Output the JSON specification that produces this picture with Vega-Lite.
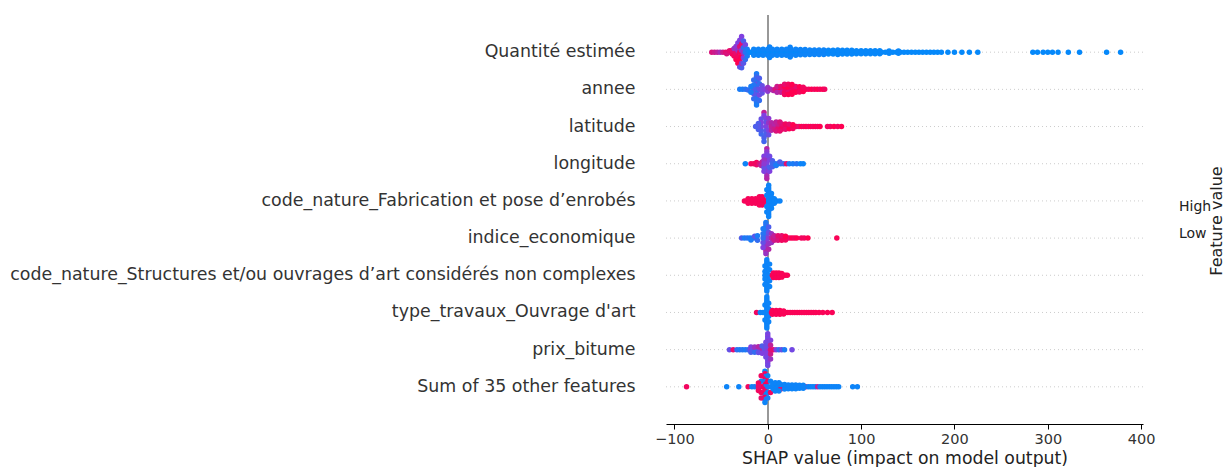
{
"$schema":"https://vega.github.io/schema/vega-lite/v6.json",
"width":477,"height":409,
"autosize":{"type":"none"},
"padding":{"left":666,"top":15,"right":82,"bottom":43},
"config":{"font":"DejaVu Sans","view":{"stroke":null}},
"datasets":{
"rows":[{"r":0},{"r":1},{"r":2},{"r":3},{"r":4},{"r":5},{"r":6},{"r":7},{"r":8},{"r":9}],
"pts":[
{"r":9,"x":-60,"v":0.85,"o":0},{"r":9,"x":-57,"v":0.8,"o":0},{"r":9,"x":-54,"v":0.75,"o":0},{"r":9,"x":-51,"v":0.65,"o":0},{"r":9,"x":-48,"v":0.8,"o":0},{"r":9,"x":-45,"v":0.9,"o":0},{"r":9,"x":-42,"v":0.95,"o":0},{"r":9,"x":-40,"v":0.6,"o":0},{"r":9,"x":-44,"v":0.85,"o":0.04},{"r":9,"x":-41,"v":0.9,"o":-0.04},
{"r":9,"x":-38,"v":0.95,"o":0.05},{"r":9,"x":-38,"v":0.9,"o":-0.05},{"r":9,"x":-36,"v":0.95,"o":0.1},{"r":9,"x":-36,"v":0.6,"o":-0.1},
{"r":9,"x":-34,"v":1,"o":0.2},{"r":9,"x":-34,"v":0.55,"o":-0.15},{"r":9,"x":-34,"v":0.9,"o":0.03},
{"r":9,"x":-32,"v":1,"o":0.3},{"r":9,"x":-32,"v":0.5,"o":-0.25},{"r":9,"x":-32,"v":0.95,"o":0.12},{"r":9,"x":-32,"v":0.6,"o":-0.05},
{"r":9,"x":-30,"v":0.4,"o":0.4},{"r":9,"x":-30,"v":0.5,"o":-0.32},{"r":9,"x":-30,"v":1,"o":0.22},{"r":9,"x":-30,"v":0.85,"o":-0.15},{"r":9,"x":-30,"v":0.95,"o":0},
{"r":9,"x":-28,"v":0.5,"o":-0.42},{"r":9,"x":-28,"v":0.3,"o":0.42},{"r":9,"x":-28,"v":0.6,"o":0.3},{"r":9,"x":-28,"v":0.9,"o":-0.22},{"r":9,"x":-28,"v":1,"o":0.12},{"r":9,"x":-28,"v":0.55,"o":-0.05},
{"r":9,"x":-26,"v":0.3,"o":-0.3},{"r":9,"x":-26,"v":0.35,"o":0.3},{"r":9,"x":-26,"v":0.5,"o":0.15},{"r":9,"x":-26,"v":0.2,"o":-0.12},{"r":9,"x":-26,"v":0.6,"o":0.02},
{"r":9,"x":-24,"v":0.2,"o":0.2},{"r":9,"x":-24,"v":0.45,"o":-0.2},{"r":9,"x":-24,"v":0.15,"o":0},{"r":9,"x":-22,"v":0.1,"o":0.1},{"r":9,"x":-22,"v":0.1,"o":-0.08},{"r":9,"x":-20,"v":0.05,"o":0},
{"r":9,"x":-18,"v":0.02,"o":0},{"r":9,"x":-14,"v":0.02,"o":0},{"r":9,"x":-10,"v":0.02,"o":0},{"r":9,"x":-6,"v":0.02,"o":0},{"r":9,"x":-2,"v":0.02,"o":0},{"r":9,"x":2,"v":0.02,"o":0},{"r":9,"x":6,"v":0.02,"o":0},{"r":9,"x":10,"v":0.02,"o":0},{"r":9,"x":14,"v":0.02,"o":0},{"r":9,"x":18,"v":0.02,"o":0},{"r":9,"x":22,"v":0.02,"o":0},{"r":9,"x":26,"v":0.02,"o":0},{"r":9,"x":30,"v":0.02,"o":0},{"r":9,"x":34,"v":0.02,"o":0},{"r":9,"x":38,"v":0.02,"o":0},{"r":9,"x":42,"v":0.02,"o":0},{"r":9,"x":46,"v":0.02,"o":0},{"r":9,"x":50,"v":0.02,"o":0},{"r":9,"x":54,"v":0.02,"o":0},{"r":9,"x":58,"v":0.02,"o":0},{"r":9,"x":62,"v":0.02,"o":0},{"r":9,"x":66,"v":0.02,"o":0},{"r":9,"x":70,"v":0.02,"o":0},{"r":9,"x":74,"v":0.02,"o":0},{"r":9,"x":78,"v":0.02,"o":0},{"r":9,"x":82,"v":0.02,"o":0},{"r":9,"x":86,"v":0.02,"o":0},{"r":9,"x":90,"v":0.02,"o":0},{"r":9,"x":94,"v":0.02,"o":0},{"r":9,"x":98,"v":0.02,"o":0},{"r":9,"x":102,"v":0.02,"o":0},{"r":9,"x":106,"v":0.02,"o":0},{"r":9,"x":110,"v":0.02,"o":0},{"r":9,"x":114,"v":0.02,"o":0},{"r":9,"x":118,"v":0.02,"o":0},{"r":9,"x":122,"v":0.02,"o":0},{"r":9,"x":126,"v":0.02,"o":0},{"r":9,"x":130,"v":0.02,"o":0},{"r":9,"x":134,"v":0.02,"o":0},{"r":9,"x":138,"v":0.02,"o":0},{"r":9,"x":142,"v":0.02,"o":0},{"r":9,"x":146,"v":0.02,"o":0},{"r":9,"x":150,"v":0.02,"o":0},{"r":9,"x":154,"v":0.02,"o":0},{"r":9,"x":158,"v":0.02,"o":0},{"r":9,"x":162,"v":0.02,"o":0},{"r":9,"x":166,"v":0.02,"o":0},{"r":9,"x":170,"v":0.02,"o":0},{"r":9,"x":174,"v":0.02,"o":0},{"r":9,"x":178,"v":0.02,"o":0},{"r":9,"x":182,"v":0.02,"o":0},{"r":9,"x":186,"v":0.02,"o":0},
{"r":9,"x":-15,"v":0.05,"o":0.08},{"r":9,"x":-15,"v":0.05,"o":-0.08},{"r":9,"x":-10,"v":0.05,"o":0.08},{"r":9,"x":-10,"v":0.05,"o":-0.08},{"r":9,"x":-5,"v":0.05,"o":0.08},{"r":9,"x":-5,"v":0.05,"o":-0.08},{"r":9,"x":0,"v":0.05,"o":0.08},{"r":9,"x":0,"v":0.05,"o":-0.08},{"r":9,"x":5,"v":0.05,"o":0.08},{"r":9,"x":5,"v":0.05,"o":-0.08},{"r":9,"x":10,"v":0.05,"o":0.08},{"r":9,"x":10,"v":0.05,"o":-0.08},{"r":9,"x":15,"v":0.05,"o":0.08},{"r":9,"x":15,"v":0.05,"o":-0.08},{"r":9,"x":20,"v":0.05,"o":0.08},{"r":9,"x":20,"v":0.05,"o":-0.08},{"r":9,"x":25,"v":0.05,"o":0.08},{"r":9,"x":25,"v":0.05,"o":-0.08},{"r":9,"x":30,"v":0.05,"o":0.08},{"r":9,"x":30,"v":0.05,"o":-0.08},{"r":9,"x":35,"v":0.05,"o":0.07},{"r":9,"x":35,"v":0.05,"o":-0.07},{"r":9,"x":40,"v":0.05,"o":0.07},{"r":9,"x":40,"v":0.05,"o":-0.07},{"r":9,"x":45,"v":0.05,"o":0.06},{"r":9,"x":45,"v":0.05,"o":-0.06},{"r":9,"x":50,"v":0.05,"o":0.06},{"r":9,"x":50,"v":0.05,"o":-0.06},{"r":9,"x":55,"v":0.05,"o":0.06},{"r":9,"x":55,"v":0.05,"o":-0.06},{"r":9,"x":60,"v":0.05,"o":0.06},{"r":9,"x":60,"v":0.05,"o":-0.06},
{"r":9,"x":2,"v":0.05,"o":0.14},{"r":9,"x":2,"v":0.05,"o":-0.14},{"r":9,"x":24,"v":0.05,"o":0.13},{"r":9,"x":24,"v":0.05,"o":-0.13},
{"r":9,"x":65,"v":0.03,"o":0.05},{"r":9,"x":65,"v":0.03,"o":-0.05},{"r":9,"x":70,"v":0.03,"o":0.05},{"r":9,"x":70,"v":0.03,"o":-0.05},{"r":9,"x":75,"v":0.03,"o":0.06},{"r":9,"x":75,"v":0.03,"o":-0.06},{"r":9,"x":80,"v":0.03,"o":0.05},{"r":9,"x":80,"v":0.03,"o":-0.05},{"r":9,"x":85,"v":0.03,"o":0.05},{"r":9,"x":85,"v":0.03,"o":-0.05},{"r":9,"x":90,"v":0.03,"o":0.05},{"r":9,"x":90,"v":0.03,"o":-0.05},{"r":9,"x":95,"v":0.03,"o":0.04},{"r":9,"x":95,"v":0.03,"o":-0.04},{"r":9,"x":100,"v":0.03,"o":0.04},{"r":9,"x":100,"v":0.03,"o":-0.04},{"r":9,"x":105,"v":0.03,"o":0.04},{"r":9,"x":105,"v":0.03,"o":-0.04},{"r":9,"x":110,"v":0.03,"o":0.04},{"r":9,"x":110,"v":0.03,"o":-0.04},{"r":9,"x":115,"v":0.03,"o":0.04},{"r":9,"x":115,"v":0.03,"o":-0.04},{"r":9,"x":120,"v":0.03,"o":0.04},{"r":9,"x":120,"v":0.03,"o":-0.04},{"r":9,"x":130,"v":0.03,"o":0.03},{"r":9,"x":130,"v":0.03,"o":-0.03},{"r":9,"x":140,"v":0.03,"o":0.03},{"r":9,"x":140,"v":0.03,"o":-0.03},
{"r":9,"x":193,"v":0.02,"o":0},{"r":9,"x":200,"v":0.02,"o":0},{"r":9,"x":208,"v":0.02,"o":0},{"r":9,"x":216,"v":0.02,"o":0},{"r":9,"x":225,"v":0.02,"o":0},{"r":9,"x":284,"v":0.02,"o":0},{"r":9,"x":289,"v":0.02,"o":0},{"r":9,"x":295,"v":0.02,"o":0},{"r":9,"x":300,"v":0.02,"o":0},{"r":9,"x":305,"v":0.02,"o":0},{"r":9,"x":311,"v":0.02,"o":0},{"r":9,"x":322,"v":0.02,"o":0},{"r":9,"x":334,"v":0.02,"o":0},{"r":9,"x":363,"v":0.02,"o":0},{"r":9,"x":378,"v":0.02,"o":0},

{"r":8,"x":-30,"v":0.1,"o":0},{"r":8,"x":-27,"v":0.1,"o":0},{"r":8,"x":-24,"v":0.15,"o":0},{"r":8,"x":-21,"v":0.2,"o":0.02},
{"r":8,"x":-12,"v":0.1,"o":-0.42},{"r":8,"x":-12,"v":0.2,"o":-0.35},{"r":8,"x":-12,"v":0.3,"o":-0.28},{"r":8,"x":-12,"v":0.15,"o":-0.21},{"r":8,"x":-12,"v":0.4,"o":-0.14},{"r":8,"x":-12,"v":0.2,"o":-0.07},{"r":8,"x":-12,"v":0.35,"o":0},{"r":8,"x":-12,"v":0.15,"o":0.07},{"r":8,"x":-12,"v":0.3,"o":0.14},{"r":8,"x":-12,"v":0.2,"o":0.21},{"r":8,"x":-12,"v":0.1,"o":0.28},{"r":8,"x":-12,"v":0.15,"o":0.35},{"r":8,"x":-12,"v":0.1,"o":0.42},
{"r":8,"x":-15,"v":0.2,"o":0.25},{"r":8,"x":-15,"v":0.2,"o":-0.25},{"r":8,"x":-15,"v":0.35,"o":0.12},{"r":8,"x":-15,"v":0.15,"o":-0.12},{"r":8,"x":-15,"v":0.3,"o":0},
{"r":8,"x":-9,"v":0.2,"o":0.3},{"r":8,"x":-9,"v":0.3,"o":-0.3},{"r":8,"x":-9,"v":0.45,"o":0.15},{"r":8,"x":-9,"v":0.2,"o":-0.15},{"r":8,"x":-9,"v":0.4,"o":0},
{"r":8,"x":-6,"v":0.4,"o":0.1},{"r":8,"x":-6,"v":0.4,"o":-0.1},{"r":8,"x":-6,"v":0.45,"o":0},{"r":8,"x":-18,"v":0.1,"o":0.08},{"r":8,"x":-18,"v":0.1,"o":-0.08},
{"r":8,"x":-3,"v":0.5,"o":0},{"r":8,"x":0,"v":0.55,"o":0.05},{"r":8,"x":0,"v":0.6,"o":-0.05},{"r":8,"x":3,"v":0.65,"o":0},{"r":8,"x":6,"v":0.7,"o":0.03},
{"r":8,"x":8,"v":0.85,"o":0},{"r":8,"x":11,"v":0.95,"o":0},{"r":8,"x":14,"v":1,"o":0},{"r":8,"x":17,"v":0.9,"o":0},{"r":8,"x":20,"v":0.95,"o":0},{"r":8,"x":23,"v":1,"o":0},{"r":8,"x":26,"v":0.9,"o":0},{"r":8,"x":29,"v":0.95,"o":0},{"r":8,"x":32,"v":1,"o":0},{"r":8,"x":35,"v":0.9,"o":0},{"r":8,"x":38,"v":0.95,"o":0},{"r":8,"x":41,"v":1,"o":0},{"r":8,"x":44,"v":0.95,"o":0},{"r":8,"x":47,"v":1,"o":0},{"r":8,"x":50,"v":0.95,"o":0},{"r":8,"x":53,"v":1,"o":0},{"r":8,"x":56,"v":0.95,"o":0},{"r":8,"x":59,"v":1,"o":0},{"r":8,"x":61,"v":0.95,"o":0},
{"r":8,"x":10,"v":0.7,"o":0.08},{"r":8,"x":10,"v":0.8,"o":-0.08},{"r":8,"x":14,"v":0.75,"o":0.08},{"r":8,"x":14,"v":0.9,"o":-0.08},{"r":8,"x":18,"v":0.95,"o":0.08},{"r":8,"x":18,"v":1,"o":-0.08},{"r":8,"x":22,"v":0.9,"o":0.08},{"r":8,"x":22,"v":1,"o":-0.08},{"r":8,"x":26,"v":1,"o":0.08},{"r":8,"x":26,"v":0.95,"o":-0.08},{"r":8,"x":30,"v":1,"o":0.08},{"r":8,"x":30,"v":0.9,"o":-0.08},{"r":8,"x":34,"v":0.95,"o":0.07},{"r":8,"x":34,"v":1,"o":-0.07},{"r":8,"x":38,"v":1,"o":0.06},{"r":8,"x":38,"v":0.95,"o":-0.06},
{"r":8,"x":18,"v":0.95,"o":0.14},{"r":8,"x":18,"v":0.9,"o":-0.14},{"r":8,"x":22,"v":1,"o":0.14},{"r":8,"x":22,"v":0.95,"o":-0.14},{"r":8,"x":26,"v":1,"o":0.13},{"r":8,"x":26,"v":1,"o":-0.13},

{"r":7,"x":-4,"v":0.75,"o":-0.38},{"r":7,"x":-4,"v":0.5,"o":-0.3},{"r":7,"x":-4,"v":0.3,"o":0.3},{"r":7,"x":-4,"v":0.25,"o":0.4},
{"r":7,"x":-2,"v":0.5,"o":-0.22},{"r":7,"x":-2,"v":0.4,"o":-0.12},{"r":7,"x":-2,"v":0.5,"o":0},{"r":7,"x":-2,"v":0.35,"o":0.12},{"r":7,"x":-2,"v":0.3,"o":0.22},
{"r":7,"x":-7,"v":0.4,"o":-0.2},{"r":7,"x":-7,"v":0.25,"o":0.2},{"r":7,"x":-7,"v":0.5,"o":-0.1},{"r":7,"x":-7,"v":0.3,"o":0.1},{"r":7,"x":-7,"v":0.45,"o":0},
{"r":7,"x":-10,"v":0.3,"o":0.08},{"r":7,"x":-10,"v":0.3,"o":-0.08},{"r":7,"x":-10,"v":0.35,"o":0},{"r":7,"x":-13,"v":0.3,"o":0},
{"r":7,"x":1,"v":0.55,"o":-0.22},{"r":7,"x":1,"v":0.4,"o":0.22},{"r":7,"x":1,"v":0.6,"o":-0.1},{"r":7,"x":1,"v":0.5,"o":0.1},{"r":7,"x":4,"v":0.7,"o":0.1},{"r":7,"x":4,"v":0.7,"o":-0.1},{"r":7,"x":4,"v":0.75,"o":0},
{"r":7,"x":6,"v":0.75,"o":0},{"r":7,"x":8.5,"v":0.8,"o":0},{"r":7,"x":11,"v":0.85,"o":0},{"r":7,"x":13.5,"v":0.9,"o":0},{"r":7,"x":16,"v":0.95,"o":0},{"r":7,"x":18.5,"v":0.9,"o":0},{"r":7,"x":21,"v":1,"o":0},{"r":7,"x":23.5,"v":0.95,"o":0},{"r":7,"x":26,"v":0.9,"o":0},{"r":7,"x":28.5,"v":1,"o":0},{"r":7,"x":31,"v":0.95,"o":0},{"r":7,"x":33.5,"v":0.9,"o":0},{"r":7,"x":36,"v":1,"o":0},{"r":7,"x":38.5,"v":0.95,"o":0},{"r":7,"x":41,"v":1,"o":0},{"r":7,"x":43.5,"v":0.95,"o":0},{"r":7,"x":46,"v":1,"o":0},{"r":7,"x":48.5,"v":0.95,"o":0},{"r":7,"x":51,"v":1,"o":0},{"r":7,"x":53.5,"v":0.95,"o":0},{"r":7,"x":56,"v":1,"o":0},
{"r":7,"x":7,"v":0.8,"o":0.07},{"r":7,"x":7,"v":0.7,"o":-0.07},{"r":7,"x":11,"v":0.9,"o":0.07},{"r":7,"x":11,"v":0.8,"o":-0.07},{"r":7,"x":15,"v":0.95,"o":0.07},{"r":7,"x":15,"v":0.9,"o":-0.07},{"r":7,"x":19,"v":0.9,"o":0.07},{"r":7,"x":19,"v":0.95,"o":-0.07},{"r":7,"x":23,"v":1,"o":0.06},{"r":7,"x":23,"v":0.9,"o":-0.06},{"r":7,"x":27,"v":0.95,"o":0.05},{"r":7,"x":27,"v":1,"o":-0.05},
{"r":7,"x":9,"v":0.85,"o":0.12},{"r":7,"x":9,"v":0.75,"o":-0.12},{"r":7,"x":13,"v":0.9,"o":0.12},{"r":7,"x":13,"v":0.85,"o":-0.12},
{"r":7,"x":64,"v":0.95,"o":0},{"r":7,"x":67,"v":0.95,"o":0},{"r":7,"x":71,"v":1,"o":0},{"r":7,"x":75,"v":0.95,"o":0},{"r":7,"x":79,"v":1,"o":0},

{"r":6,"x":-24,"v":0.05,"o":0},{"r":6,"x":-18,"v":0.95,"o":0},{"r":6,"x":-15,"v":0.95,"o":0},{"r":6,"x":-12,"v":0.9,"o":0.03},{"r":6,"x":-12,"v":0.95,"o":-0.03},{"r":6,"x":-9,"v":0.85,"o":0},{"r":6,"x":-7,"v":0.7,"o":0.05},{"r":6,"x":-6,"v":0.75,"o":-0.05},
{"r":6,"x":-1,"v":0.7,"o":-0.4},{"r":6,"x":-1,"v":0.55,"o":-0.32},{"r":6,"x":-1,"v":0.5,"o":-0.24},{"r":6,"x":-1,"v":0.45,"o":-0.16},{"r":6,"x":-1,"v":0.6,"o":-0.08},{"r":6,"x":-1,"v":0.5,"o":0},{"r":6,"x":-1,"v":0.4,"o":0.08},{"r":6,"x":-1,"v":0.55,"o":0.16},{"r":6,"x":-1,"v":0.6,"o":0.24},{"r":6,"x":-1,"v":0.65,"o":0.32},{"r":6,"x":-1,"v":0.7,"o":0.4},
{"r":6,"x":-4,"v":0.5,"o":0.2},{"r":6,"x":-4,"v":0.5,"o":-0.2},{"r":6,"x":-4,"v":0.4,"o":0.1},{"r":6,"x":-4,"v":0.6,"o":-0.1},{"r":6,"x":-4,"v":0.55,"o":0},
{"r":6,"x":2,"v":0.5,"o":0.2},{"r":6,"x":2,"v":0.45,"o":-0.2},{"r":6,"x":2,"v":0.3,"o":0.1},{"r":6,"x":2,"v":0.5,"o":-0.1},{"r":6,"x":5,"v":0.3,"o":0.08},{"r":6,"x":5,"v":0.3,"o":-0.08},{"r":6,"x":5,"v":0.25,"o":0},
{"r":6,"x":8,"v":0.2,"o":0},{"r":6,"x":11,"v":0.15,"o":0},{"r":6,"x":14,"v":0.1,"o":0},{"r":6,"x":17,"v":0.2,"o":0},{"r":6,"x":20,"v":0.9,"o":0},{"r":6,"x":23,"v":0.1,"o":0},{"r":6,"x":27,"v":0.1,"o":0},{"r":6,"x":31,"v":0.15,"o":0},{"r":6,"x":35,"v":0.05,"o":0},{"r":6,"x":38,"v":0.05,"o":0},{"r":6,"x":9,"v":0.1,"o":0.05},{"r":6,"x":13,"v":0.3,"o":-0.05},

{"r":5,"x":-25,"v":0.97,"o":0},{"r":5,"x":-22.5,"v":0.97,"o":0},{"r":5,"x":-20,"v":0.97,"o":0},{"r":5,"x":-17.5,"v":0.97,"o":0},{"r":5,"x":-15,"v":0.97,"o":0},{"r":5,"x":-12.5,"v":0.97,"o":0},{"r":5,"x":-10,"v":0.97,"o":0},{"r":5,"x":-7.5,"v":0.97,"o":0},{"r":5,"x":-5,"v":0.97,"o":0},{"r":5,"x":-2.5,"v":0.97,"o":0},
{"r":5,"x":-21,"v":0.97,"o":0.06},{"r":5,"x":-21,"v":0.97,"o":-0.06},{"r":5,"x":-17,"v":0.97,"o":0.06},{"r":5,"x":-17,"v":0.97,"o":-0.06},{"r":5,"x":-13,"v":0.97,"o":0.06},{"r":5,"x":-13,"v":0.97,"o":-0.06},{"r":5,"x":-9,"v":0.97,"o":0.06},{"r":5,"x":-9,"v":0.97,"o":-0.06},{"r":5,"x":-5,"v":0.97,"o":0.06},{"r":5,"x":-5,"v":0.97,"o":-0.06},{"r":5,"x":-9,"v":0.97,"o":0.11},{"r":5,"x":-9,"v":0.97,"o":-0.11},{"r":5,"x":-6,"v":0.97,"o":0.11},{"r":5,"x":-6,"v":0.97,"o":-0.11},
{"r":5,"x":1,"v":0.05,"o":-0.42},{"r":5,"x":1,"v":0.05,"o":-0.35},{"r":5,"x":1,"v":0.05,"o":-0.28},{"r":5,"x":1,"v":0.05,"o":-0.21},{"r":5,"x":1,"v":0.05,"o":-0.14},{"r":5,"x":1,"v":0.05,"o":-0.07},{"r":5,"x":1,"v":0.05,"o":0},{"r":5,"x":1,"v":0.05,"o":0.07},{"r":5,"x":1,"v":0.05,"o":0.14},{"r":5,"x":1,"v":0.05,"o":0.21},{"r":5,"x":1,"v":0.05,"o":0.28},{"r":5,"x":1,"v":0.05,"o":0.35},{"r":5,"x":1,"v":0.05,"o":0.42},
{"r":5,"x":4,"v":0.05,"o":0.2},{"r":5,"x":4,"v":0.05,"o":-0.2},{"r":5,"x":4,"v":0.05,"o":0.1},{"r":5,"x":4,"v":0.05,"o":-0.1},{"r":5,"x":4,"v":0.05,"o":0},{"r":5,"x":-1,"v":0.05,"o":0.3},{"r":5,"x":-1,"v":0.05,"o":-0.3},{"r":5,"x":-1,"v":0.05,"o":0.15},{"r":5,"x":-1,"v":0.05,"o":-0.15},{"r":5,"x":7,"v":0.05,"o":0.06},{"r":5,"x":7,"v":0.05,"o":-0.06},{"r":5,"x":7,"v":0.05,"o":0},{"r":5,"x":10,"v":0.05,"o":0},{"r":5,"x":13,"v":0.05,"o":0},

{"r":4,"x":-28,"v":0.3,"o":0},{"r":4,"x":-25,"v":0.1,"o":0},{"r":4,"x":-22,"v":0.15,"o":0},{"r":4,"x":-19,"v":0.1,"o":0},{"r":4,"x":-16,"v":0.2,"o":0},{"r":4,"x":-13,"v":0.15,"o":0},{"r":4,"x":-18,"v":0.1,"o":0.05},{"r":4,"x":-14,"v":0.35,"o":-0.05},{"r":4,"x":-11,"v":0.2,"o":0.06},{"r":4,"x":-11,"v":0.1,"o":-0.06},
{"r":4,"x":-2,"v":0.1,"o":-0.42},{"r":4,"x":-2,"v":0.15,"o":-0.35},{"r":4,"x":-2,"v":0.1,"o":-0.28},{"r":4,"x":-2,"v":0.2,"o":-0.21},{"r":4,"x":-2,"v":0.15,"o":-0.14},{"r":4,"x":-2,"v":0.3,"o":-0.07},{"r":4,"x":-2,"v":0.4,"o":0},{"r":4,"x":-2,"v":0.5,"o":0.07},{"r":4,"x":-2,"v":0.55,"o":0.14},{"r":4,"x":-2,"v":0.6,"o":0.21},{"r":4,"x":-2,"v":0.65,"o":0.28},{"r":4,"x":-2,"v":0.7,"o":0.35},{"r":4,"x":-2,"v":0.6,"o":0.42},
{"r":4,"x":-5,"v":0.1,"o":-0.25},{"r":4,"x":-5,"v":0.5,"o":0.25},{"r":4,"x":-5,"v":0.15,"o":-0.12},{"r":4,"x":-5,"v":0.4,"o":0.12},{"r":4,"x":-5,"v":0.2,"o":0},
{"r":4,"x":1,"v":0.3,"o":-0.3},{"r":4,"x":1,"v":0.7,"o":0.3},{"r":4,"x":1,"v":0.4,"o":-0.15},{"r":4,"x":1,"v":0.6,"o":0.15},{"r":4,"x":1,"v":0.55,"o":0},{"r":4,"x":4,"v":0.6,"o":0.12},{"r":4,"x":4,"v":0.6,"o":-0.12},{"r":4,"x":4,"v":0.7,"o":0},
{"r":4,"x":6,"v":0.8,"o":0},{"r":4,"x":8.5,"v":0.85,"o":0},{"r":4,"x":11,"v":0.9,"o":0},{"r":4,"x":13.5,"v":0.95,"o":0},{"r":4,"x":16,"v":0.9,"o":0},{"r":4,"x":18.5,"v":1,"o":0},{"r":4,"x":21,"v":0.95,"o":0},{"r":4,"x":23.5,"v":0.9,"o":0},{"r":4,"x":26,"v":1,"o":0},{"r":4,"x":28.5,"v":0.95,"o":0},{"r":4,"x":31,"v":1,"o":0},
{"r":4,"x":7,"v":0.8,"o":0.06},{"r":4,"x":7,"v":0.75,"o":-0.06},{"r":4,"x":11,"v":0.85,"o":0.06},{"r":4,"x":11,"v":0.9,"o":-0.06},{"r":4,"x":15,"v":0.95,"o":0.06},{"r":4,"x":15,"v":0.9,"o":-0.06},{"r":4,"x":19,"v":0.95,"o":0.05},{"r":4,"x":19,"v":1,"o":-0.05},
{"r":4,"x":36,"v":0.95,"o":0},{"r":4,"x":39,"v":0.95,"o":0},{"r":4,"x":43,"v":1,"o":0},{"r":4,"x":74,"v":0.98,"o":0},

{"r":3,"x":-1,"v":0.05,"o":-0.42},{"r":3,"x":-1,"v":0.05,"o":-0.36},{"r":3,"x":-1,"v":0.05,"o":-0.3},{"r":3,"x":-1,"v":0.05,"o":-0.24},{"r":3,"x":-1,"v":0.05,"o":-0.18},{"r":3,"x":-1,"v":0.05,"o":-0.12},{"r":3,"x":-1,"v":0.05,"o":-0.06},{"r":3,"x":-1,"v":0.05,"o":0},{"r":3,"x":-1,"v":0.05,"o":0.06},{"r":3,"x":-1,"v":0.05,"o":0.12},{"r":3,"x":-1,"v":0.05,"o":0.18},{"r":3,"x":-1,"v":0.05,"o":0.24},{"r":3,"x":-1,"v":0.05,"o":0.3},{"r":3,"x":-1,"v":0.05,"o":0.36},{"r":3,"x":-1,"v":0.05,"o":0.42},
{"r":3,"x":-3,"v":0.05,"o":0.25},{"r":3,"x":-3,"v":0.05,"o":-0.25},{"r":3,"x":-3,"v":0.05,"o":0.1},{"r":3,"x":-3,"v":0.05,"o":-0.1},{"r":3,"x":-3,"v":0.05,"o":0},{"r":3,"x":2,"v":0.05,"o":0.3},{"r":3,"x":2,"v":0.05,"o":-0.3},{"r":3,"x":2,"v":0.05,"o":0.15},{"r":3,"x":2,"v":0.05,"o":-0.15},{"r":3,"x":2,"v":0.05,"o":0},
{"r":3,"x":5,"v":0.98,"o":0},{"r":3,"x":7,"v":0.98,"o":0},{"r":3,"x":9,"v":0.98,"o":0},{"r":3,"x":11,"v":0.98,"o":0},{"r":3,"x":13,"v":0.98,"o":0},{"r":3,"x":15,"v":0.98,"o":0},{"r":3,"x":17,"v":0.98,"o":0},{"r":3,"x":19,"v":0.98,"o":0},{"r":3,"x":21,"v":0.98,"o":0},
{"r":3,"x":6,"v":0.98,"o":0.06},{"r":3,"x":6,"v":0.98,"o":-0.06},{"r":3,"x":9,"v":0.98,"o":0.06},{"r":3,"x":9,"v":0.98,"o":-0.06},{"r":3,"x":12,"v":0.98,"o":0.06},{"r":3,"x":12,"v":0.98,"o":-0.06},{"r":3,"x":15,"v":0.98,"o":0.05},{"r":3,"x":15,"v":0.98,"o":-0.05},

{"r":2,"x":-1,"v":0.05,"o":-0.42},{"r":2,"x":-1,"v":0.05,"o":-0.36},{"r":2,"x":-1,"v":0.05,"o":-0.3},{"r":2,"x":-1,"v":0.05,"o":-0.24},{"r":2,"x":-1,"v":0.05,"o":-0.18},{"r":2,"x":-1,"v":0.05,"o":-0.12},{"r":2,"x":-1,"v":0.05,"o":-0.06},{"r":2,"x":-1,"v":0.05,"o":0},{"r":2,"x":-1,"v":0.05,"o":0.06},{"r":2,"x":-1,"v":0.05,"o":0.12},{"r":2,"x":-1,"v":0.05,"o":0.18},{"r":2,"x":-1,"v":0.05,"o":0.24},{"r":2,"x":-1,"v":0.05,"o":0.3},{"r":2,"x":-1,"v":0.05,"o":0.36},{"r":2,"x":-1,"v":0.05,"o":0.42},
{"r":2,"x":-3,"v":0.05,"o":0.2},{"r":2,"x":-3,"v":0.05,"o":-0.2},{"r":2,"x":-3,"v":0.05,"o":0},{"r":2,"x":1,"v":0.05,"o":0.25},{"r":2,"x":1,"v":0.05,"o":-0.25},{"r":2,"x":1,"v":0.05,"o":0.1},{"r":2,"x":1,"v":0.05,"o":-0.1},
{"r":2,"x":-12,"v":0.95,"o":0},{"r":2,"x":-8,"v":0.05,"o":0},{"r":2,"x":-5,"v":0.05,"o":0},
{"r":2,"x":4,"v":0.98,"o":0},{"r":2,"x":6.5,"v":0.98,"o":0},{"r":2,"x":9,"v":0.98,"o":0},{"r":2,"x":11.5,"v":0.98,"o":0},{"r":2,"x":14,"v":0.98,"o":0},{"r":2,"x":16.5,"v":0.98,"o":0},{"r":2,"x":19,"v":0.98,"o":0},{"r":2,"x":21.5,"v":0.98,"o":0},{"r":2,"x":24,"v":0.98,"o":0},{"r":2,"x":26.5,"v":0.98,"o":0},{"r":2,"x":29,"v":0.98,"o":0},{"r":2,"x":31.5,"v":0.98,"o":0},{"r":2,"x":34,"v":0.98,"o":0},{"r":2,"x":36.5,"v":0.98,"o":0},{"r":2,"x":39,"v":0.98,"o":0},{"r":2,"x":41.5,"v":0.98,"o":0},{"r":2,"x":44,"v":0.98,"o":0},{"r":2,"x":46.5,"v":0.98,"o":0},{"r":2,"x":49,"v":0.98,"o":0},{"r":2,"x":51.5,"v":0.98,"o":0},
{"r":2,"x":5,"v":0.98,"o":0.05},{"r":2,"x":5,"v":0.98,"o":-0.05},{"r":2,"x":9,"v":0.98,"o":0.05},{"r":2,"x":9,"v":0.98,"o":-0.05},{"r":2,"x":13,"v":0.98,"o":0.05},{"r":2,"x":13,"v":0.98,"o":-0.05},{"r":2,"x":17,"v":0.98,"o":0.04},{"r":2,"x":17,"v":0.98,"o":-0.04},
{"r":2,"x":55,"v":0.98,"o":0},{"r":2,"x":59,"v":0.98,"o":0},{"r":2,"x":64,"v":0.98,"o":0},{"r":2,"x":69,"v":0.98,"o":0},

{"r":1,"x":-41,"v":0.4,"o":0},{"r":1,"x":-37,"v":0.9,"o":0},{"r":1,"x":-33,"v":0.2,"o":0},{"r":1,"x":-30,"v":0.1,"o":0},{"r":1,"x":-27,"v":0.15,"o":0},{"r":1,"x":-24,"v":0.1,"o":0},
{"r":1,"x":-21,"v":0.2,"o":0},{"r":1,"x":-18.5,"v":0.45,"o":0},{"r":1,"x":-16,"v":0.1,"o":0},{"r":1,"x":-13.5,"v":0.6,"o":0},{"r":1,"x":-11,"v":0.3,"o":0},{"r":1,"x":-8.5,"v":0.5,"o":0},{"r":1,"x":-6,"v":0.7,"o":0},{"r":1,"x":-3.5,"v":0.4,"o":0},
{"r":1,"x":-18,"v":0.3,"o":0.07},{"r":1,"x":-18,"v":0.5,"o":-0.07},{"r":1,"x":-14,"v":0.2,"o":0.07},{"r":1,"x":-14,"v":0.6,"o":-0.07},{"r":1,"x":-10,"v":0.4,"o":0.08},{"r":1,"x":-10,"v":0.7,"o":-0.08},{"r":1,"x":-6,"v":0.5,"o":0.1},{"r":1,"x":-6,"v":0.3,"o":-0.1},
{"r":1,"x":0,"v":0.45,"o":-0.43},{"r":1,"x":0,"v":0.5,"o":-0.36},{"r":1,"x":0,"v":0.45,"o":-0.29},{"r":1,"x":0,"v":0.55,"o":-0.22},{"r":1,"x":0,"v":0.5,"o":-0.14},{"r":1,"x":0,"v":0.45,"o":-0.07},{"r":1,"x":0,"v":0.5,"o":0},{"r":1,"x":0,"v":0.55,"o":0.07},{"r":1,"x":0,"v":0.45,"o":0.14},{"r":1,"x":0,"v":0.5,"o":0.22},{"r":1,"x":0,"v":0.45,"o":0.29},{"r":1,"x":0,"v":0.5,"o":0.36},{"r":1,"x":0,"v":0.45,"o":0.43},
{"r":1,"x":-2,"v":0.45,"o":0.2},{"r":1,"x":-2,"v":0.45,"o":-0.2},{"r":1,"x":-2,"v":0.5,"o":0.1},{"r":1,"x":-2,"v":0.4,"o":-0.1},{"r":1,"x":3,"v":0.5,"o":-0.25},{"r":1,"x":3,"v":0.6,"o":0.25},{"r":1,"x":3,"v":0.75,"o":-0.12},{"r":1,"x":3,"v":0.8,"o":0.12},{"r":1,"x":3,"v":0.85,"o":0},
{"r":1,"x":6,"v":0.9,"o":0},{"r":1,"x":9,"v":0.5,"o":0},{"r":1,"x":12,"v":0.2,"o":0},{"r":1,"x":15,"v":0.4,"o":0},{"r":1,"x":18,"v":0.1,"o":0},{"r":1,"x":26,"v":0.45,"o":0},

{"r":0,"x":-87,"v":0.95,"o":0},{"r":0,"x":-44,"v":0.05,"o":0},{"r":0,"x":-31,"v":0.05,"o":0},{"r":0,"x":-21,"v":0.95,"o":0},{"r":0,"x":-17,"v":0.05,"o":0},{"r":0,"x":-14,"v":0.1,"o":0},
{"r":0,"x":-3,"v":0.05,"o":-0.42},{"r":0,"x":-3,"v":0.95,"o":-0.35},{"r":0,"x":-3,"v":0.1,"o":-0.28},{"r":0,"x":-3,"v":0.95,"o":-0.21},{"r":0,"x":-3,"v":0.05,"o":-0.14},{"r":0,"x":-3,"v":1,"o":-0.07},{"r":0,"x":-3,"v":0.1,"o":0},{"r":0,"x":-3,"v":0.95,"o":0.07},{"r":0,"x":-3,"v":0.9,"o":0.14},{"r":0,"x":-3,"v":0.05,"o":0.21},{"r":0,"x":-3,"v":0.95,"o":0.28},{"r":0,"x":-3,"v":0.1,"o":0.35},{"r":0,"x":-3,"v":0.05,"o":0.42},
{"r":0,"x":-7,"v":0.95,"o":-0.3},{"r":0,"x":-7,"v":0.9,"o":0.3},{"r":0,"x":-7,"v":0.1,"o":-0.15},{"r":0,"x":-7,"v":0.95,"o":0.15},{"r":0,"x":-7,"v":0.95,"o":0},
{"r":0,"x":0,"v":0.05,"o":-0.3},{"r":0,"x":0,"v":0.1,"o":0.3},{"r":0,"x":0,"v":0.95,"o":-0.15},{"r":0,"x":0,"v":0.05,"o":0.15},{"r":0,"x":0,"v":0.1,"o":0},
{"r":0,"x":3,"v":0.05,"o":-0.15},{"r":0,"x":3,"v":0.95,"o":0.15},{"r":0,"x":3,"v":0.05,"o":0},{"r":0,"x":-10,"v":0.95,"o":0.1},{"r":0,"x":-10,"v":0.95,"o":-0.1},{"r":0,"x":-10,"v":0.9,"o":0},
{"r":0,"x":6,"v":0.05,"o":0},{"r":0,"x":8.5,"v":0.05,"o":0},{"r":0,"x":11,"v":0.05,"o":0},{"r":0,"x":13.5,"v":0.05,"o":0},{"r":0,"x":16,"v":0.05,"o":0},{"r":0,"x":18.5,"v":0.05,"o":0},{"r":0,"x":21,"v":0.05,"o":0},{"r":0,"x":23.5,"v":0.05,"o":0},{"r":0,"x":26,"v":0.05,"o":0},{"r":0,"x":28.5,"v":0.8,"o":0},{"r":0,"x":31,"v":0.05,"o":0},{"r":0,"x":33.5,"v":0.05,"o":0},{"r":0,"x":36,"v":0.05,"o":0},{"r":0,"x":38.5,"v":0.05,"o":0},{"r":0,"x":41,"v":0.7,"o":0},{"r":0,"x":43.5,"v":0.05,"o":0},{"r":0,"x":46,"v":0.05,"o":0},{"r":0,"x":48.5,"v":0.05,"o":0},{"r":0,"x":51,"v":0.05,"o":0},{"r":0,"x":53.5,"v":0.75,"o":0},{"r":0,"x":56,"v":0.05,"o":0},{"r":0,"x":58.5,"v":0.05,"o":0},{"r":0,"x":61,"v":0.05,"o":0},{"r":0,"x":63.5,"v":0.05,"o":0},{"r":0,"x":66,"v":0.05,"o":0},{"r":0,"x":68.5,"v":0.05,"o":0},{"r":0,"x":71,"v":0.05,"o":0},{"r":0,"x":73.5,"v":0.05,"o":0},{"r":0,"x":76,"v":0.05,"o":0},
{"r":0,"x":6,"v":0.05,"o":0.06},{"r":0,"x":6,"v":0.05,"o":-0.06},{"r":0,"x":10,"v":0.05,"o":0.06},{"r":0,"x":10,"v":0.05,"o":-0.06},{"r":0,"x":14,"v":0.9,"o":0.06},{"r":0,"x":14,"v":0.05,"o":-0.06},{"r":0,"x":18,"v":0.05,"o":0.06},{"r":0,"x":18,"v":0.05,"o":-0.06},{"r":0,"x":22,"v":0.05,"o":0.05},{"r":0,"x":22,"v":0.05,"o":-0.05},{"r":0,"x":26,"v":0.05,"o":0.05},{"r":0,"x":26,"v":0.05,"o":-0.05},{"r":0,"x":30,"v":0.05,"o":0.05},{"r":0,"x":30,"v":0.05,"o":-0.05},{"r":0,"x":34,"v":0.05,"o":0.04},{"r":0,"x":34,"v":0.05,"o":-0.04},{"r":0,"x":38,"v":0.05,"o":0.04},{"r":0,"x":38,"v":0.05,"o":-0.04},
{"r":0,"x":8,"v":0.05,"o":0.11},{"r":0,"x":8,"v":0.05,"o":-0.11},{"r":0,"x":12,"v":0.05,"o":0.11},{"r":0,"x":12,"v":0.05,"o":-0.11},
{"r":0,"x":91,"v":0.05,"o":0},{"r":0,"x":96,"v":0.05,"o":0}
]},
"layer":[
{"data":{"name":"rows"},
 "mark":{"type":"rule","color":"#cccccc","strokeWidth":1,"strokeDash":[1,3]},
 "encoding":{"y":{"field":"r","type":"ordinal","sort":"descending"}}},
{"data":{"name":"rows"},
 "mark":{"type":"rule","color":"#999999","strokeWidth":1.3},
 "encoding":{"x":{"datum":0}}},
{"data":{"name":"pts"},
 "mark":{"type":"circle","size":30,"opacity":1},
 "encoding":{
  "x":{"field":"x","type":"quantitative","scale":{"domain":[-109,402],"nice":false,"zero":false},
   "axis":{"values":[-100,0,100,200,300,400],"title":"SHAP value (impact on model output)","titleFontSize":17.3,"titleFontWeight":"normal","titleColor":"#222","titlePadding":4,"labelFontSize":14.5,"labelColor":"#333","domainColor":"#000","tickColor":"#000","tickSize":5,"labelPadding":3,"grid":false,"labelFlush":false}},
  "y":{"field":"r","type":"ordinal","sort":"descending","scale":{"type":"band","paddingInner":0,"paddingOuter":0.5},
   "axis":{"title":null,"ticks":false,"domain":false,"grid":false,"labelFontSize":17.4,"labelColor":"#333","labelPadding":31,"labelLimit":700,
    "labelExpr":"['Sum of 35 other features','prix_bitume','type_travaux_Ouvrage d\\'art','code_nature_Structures et/ou ouvrages d’art considérés non complexes','indice_economique','code_nature_Fabrication et pose d’enrobés','longitude','latitude','annee','Quantité estimée'][datum.value]"}},
  "yOffset":{"field":"o","type":"quantitative","scale":{"domain":[-0.5,0.5]}},
  "color":{"field":"v","type":"quantitative","scale":{"domain":[0,1],"range":["#008bfb","#8040e0","#ff0051"],"interpolate":"rgb"},
   "legend":{"orient":"none","legendX":507,"legendY":185,"values":[0,1],"gradientLength":41,"gradientThickness":4,"gradientOpacity":0,"gradientStrokeWidth":0,"labelFontSize":14,"labelColor":"#222","labelExpr":"datum.value==1?'High':'Low'","title":"Feature value","titleOrient":"right","titlePadding":14,"titleFontSize":16,"titleFontWeight":"normal","titleColor":"#222","encode":{"title":{"update":{"angle":{"value":-90}}}}}}
 }}
]
}
